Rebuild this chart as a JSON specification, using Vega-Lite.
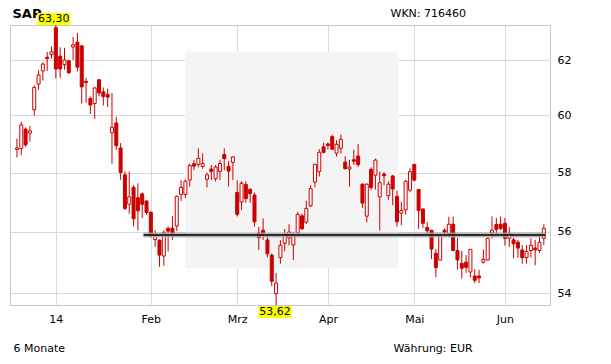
{
  "$schema": "https://vega.github.io/schema/vega-lite/v6.json",
  "autosize": {"type": "none"},
  "padding": {"left": 10, "top": 25, "right": 61, "bottom": 59},
  "width": 540,
  "height": 280,
  "background": "white",
  "config": {
    "view": {"stroke": "#c8c8c8"},
    "locale": {"number": {"decimal": ",", "thousands": ".", "grouping": [3], "currency": ["", " €"]}},
    "axis": {"labelFont": "DejaVu Sans", "titleFont": "DejaVu Sans", "labelColor": "#000000", "titleColor": "#000000", "labelFontSize": 11, "titleFontSize": 11, "titleFontWeight": "normal"}
  },
  "data": {"values": [
    {"i":0,"o":58.80,"h":59.18,"l":58.52,"c":58.85},
    {"i":1,"o":58.83,"h":59.77,"l":58.60,"c":59.66},
    {"i":2,"o":59.51,"h":59.57,"l":58.88,"c":58.96},
    {"i":3,"o":59.37,"h":59.62,"l":59.07,"c":59.45},
    {"i":4,"o":60.20,"h":61.07,"l":60.00,"c":61.00},
    {"i":5,"o":61.12,"h":61.62,"l":60.92,"c":61.45},
    {"i":6,"o":61.60,"h":61.92,"l":61.25,"c":61.85},
    {"i":7,"o":62.10,"h":62.30,"l":61.60,"c":62.05},
    {"i":8,"o":62.20,"h":62.50,"l":62.05,"c":62.30},
    {"i":9,"o":63.20,"h":63.30,"l":61.33,"c":61.67},
    {"i":10,"o":62.14,"h":62.47,"l":61.35,"c":61.67},
    {"i":11,"o":61.83,"h":62.45,"l":61.65,"c":62.00},
    {"i":12,"o":61.97,"h":62.00,"l":61.50,"c":61.53},
    {"i":13,"o":62.48,"h":62.85,"l":62.00,"c":62.56},
    {"i":14,"o":62.66,"h":63.00,"l":61.58,"c":61.74},
    {"i":15,"o":62.52,"h":62.55,"l":60.42,"c":61.02},
    {"i":16,"o":61.22,"h":61.35,"l":60.45,"c":61.18},
    {"i":17,"o":60.60,"h":60.67,"l":60.05,"c":60.37},
    {"i":18,"o":60.42,"h":61.02,"l":59.87,"c":60.98},
    {"i":19,"o":61.28,"h":61.30,"l":60.68,"c":60.80},
    {"i":20,"o":60.84,"h":61.00,"l":60.35,"c":60.67},
    {"i":21,"o":60.75,"h":60.95,"l":60.30,"c":60.65},
    {"i":22,"o":59.38,"h":60.80,"l":58.30,"c":59.58},
    {"i":23,"o":59.73,"h":59.95,"l":58.78,"c":58.93},
    {"i":24,"o":58.85,"h":59.02,"l":57.75,"c":58.00},
    {"i":25,"o":57.92,"h":58.04,"l":56.72,"c":56.78},
    {"i":26,"o":56.92,"h":58.04,"l":56.60,"c":57.17},
    {"i":27,"o":57.49,"h":57.57,"l":56.18,"c":56.43},
    {"i":28,"o":57.14,"h":57.63,"l":56.04,"c":56.70},
    {"i":29,"o":57.27,"h":57.32,"l":56.46,"c":56.92},
    {"i":30,"o":57.03,"h":57.05,"l":56.56,"c":56.64},
    {"i":31,"o":56.65,"h":56.68,"l":55.80,"c":55.88},
    {"i":32,"o":55.74,"h":56.05,"l":55.50,"c":55.88},
    {"i":33,"o":55.72,"h":55.75,"l":54.85,"c":55.23},
    {"i":34,"o":55.20,"h":56.05,"l":54.88,"c":55.98},
    {"i":35,"o":56.11,"h":56.18,"l":55.35,"c":56.02},
    {"i":36,"o":56.12,"h":56.53,"l":55.73,"c":55.91},
    {"i":37,"o":56.19,"h":57.22,"l":56.02,"c":57.19},
    {"i":38,"o":57.25,"h":57.74,"l":57.03,"c":57.49},
    {"i":39,"o":57.25,"h":57.77,"l":57.12,"c":57.70},
    {"i":40,"o":57.74,"h":58.30,"l":57.52,"c":58.24},
    {"i":41,"o":58.30,"h":58.43,"l":58.08,"c":58.22},
    {"i":42,"o":58.28,"h":58.84,"l":58.18,"c":58.49},
    {"i":43,"o":58.21,"h":58.66,"l":58.13,"c":58.31},
    {"i":44,"o":57.77,"h":58.00,"l":57.49,"c":57.92},
    {"i":45,"o":58.12,"h":58.26,"l":57.74,"c":58.04},
    {"i":46,"o":57.79,"h":58.26,"l":57.69,"c":58.19},
    {"i":47,"o":58.04,"h":58.44,"l":57.74,"c":58.31},
    {"i":48,"o":58.62,"h":58.84,"l":58.08,"c":58.48},
    {"i":49,"o":58.21,"h":58.39,"l":57.52,"c":58.05},
    {"i":50,"o":58.35,"h":58.56,"l":57.74,"c":58.54},
    {"i":51,"o":57.32,"h":57.74,"l":56.51,"c":56.58},
    {"i":52,"o":57.00,"h":57.70,"l":56.73,"c":57.63},
    {"i":53,"o":57.59,"h":57.70,"l":56.97,"c":57.11},
    {"i":54,"o":57.42,"h":57.47,"l":56.97,"c":57.28},
    {"i":55,"o":57.23,"h":57.31,"l":56.17,"c":56.33},
    {"i":56,"o":55.96,"h":56.16,"l":55.40,"c":55.80},
    {"i":57,"o":56.05,"h":56.44,"l":55.73,"c":55.94},
    {"i":58,"o":55.73,"h":55.85,"l":55.15,"c":55.27},
    {"i":59,"o":55.23,"h":55.28,"l":54.22,"c":54.38},
    {"i":60,"o":53.98,"h":54.65,"l":53.62,"c":54.32},
    {"i":61,"o":55.15,"h":55.72,"l":54.95,"c":55.55},
    {"i":62,"o":55.62,"h":56.09,"l":55.35,"c":55.92},
    {"i":63,"o":55.80,"h":56.25,"l":55.55,"c":55.99},
    {"i":64,"o":55.56,"h":56.00,"l":55.07,"c":55.88},
    {"i":65,"o":55.96,"h":56.66,"l":55.90,"c":56.58},
    {"i":66,"o":56.53,"h":56.60,"l":56.06,"c":56.10},
    {"i":67,"o":56.32,"h":57.04,"l":56.25,"c":56.78},
    {"i":68,"o":56.87,"h":57.57,"l":56.83,"c":57.45},
    {"i":69,"o":57.67,"h":58.30,"l":57.49,"c":58.28},
    {"i":70,"o":58.03,"h":58.81,"l":57.86,"c":58.70},
    {"i":71,"o":58.89,"h":59.04,"l":58.66,"c":58.70},
    {"i":72,"o":58.99,"h":59.04,"l":58.80,"c":58.94},
    {"i":73,"o":59.25,"h":59.32,"l":58.78,"c":58.81},
    {"i":74,"o":58.67,"h":59.12,"l":58.55,"c":58.98},
    {"i":75,"o":58.84,"h":59.32,"l":58.66,"c":59.15},
    {"i":76,"o":58.36,"h":58.56,"l":58.09,"c":58.14},
    {"i":77,"o":58.12,"h":58.44,"l":57.52,"c":58.19},
    {"i":78,"o":58.44,"h":58.79,"l":58.26,"c":58.39},
    {"i":79,"o":58.57,"h":58.99,"l":58.19,"c":58.27},
    {"i":80,"o":57.60,"h":57.63,"l":56.80,"c":56.96},
    {"i":81,"o":56.52,"h":57.63,"l":56.31,"c":57.60},
    {"i":82,"o":58.11,"h":58.18,"l":57.40,"c":57.49},
    {"i":83,"o":57.91,"h":58.48,"l":57.42,"c":58.43},
    {"i":84,"o":57.17,"h":58.03,"l":56.04,"c":57.65},
    {"i":85,"o":57.95,"h":58.01,"l":57.57,"c":57.89},
    {"i":86,"o":57.21,"h":57.70,"l":57.07,"c":57.60},
    {"i":87,"o":57.88,"h":57.92,"l":56.89,"c":57.44},
    {"i":88,"o":57.19,"h":57.37,"l":56.17,"c":56.33},
    {"i":89,"o":56.62,"h":57.00,"l":56.22,"c":56.71},
    {"i":90,"o":56.73,"h":57.74,"l":56.57,"c":57.70},
    {"i":91,"o":57.40,"h":58.15,"l":57.32,"c":58.03},
    {"i":92,"o":58.28,"h":58.30,"l":57.69,"c":57.74},
    {"i":93,"o":57.42,"h":57.43,"l":56.09,"c":56.71},
    {"i":94,"o":56.76,"h":56.78,"l":56.13,"c":56.28},
    {"i":95,"o":56.14,"h":56.32,"l":55.92,"c":56.03},
    {"i":96,"o":56.05,"h":56.05,"l":55.10,"c":55.43},
    {"i":97,"o":55.29,"h":55.43,"l":54.51,"c":54.82},
    {"i":98,"o":55.07,"h":55.88,"l":55.05,"c":55.87},
    {"i":99,"o":56.05,"h":56.11,"l":55.85,"c":55.99},
    {"i":100,"o":55.94,"h":56.50,"l":55.82,"c":56.25},
    {"i":101,"o":56.25,"h":56.50,"l":55.37,"c":55.38},
    {"i":102,"o":55.38,"h":55.80,"l":54.75,"c":55.07},
    {"i":103,"o":54.96,"h":55.37,"l":54.47,"c":54.80},
    {"i":104,"o":55.00,"h":55.23,"l":54.65,"c":54.83},
    {"i":105,"o":54.68,"h":55.43,"l":54.50,"c":55.42},
    {"i":106,"o":54.55,"h":54.77,"l":54.32,"c":54.41},
    {"i":107,"o":54.55,"h":54.75,"l":54.32,"c":54.49},
    {"i":108,"o":55.00,"h":55.42,"l":54.95,"c":55.09},
    {"i":109,"o":55.07,"h":55.80,"l":55.05,"c":55.78},
    {"i":110,"o":55.96,"h":56.51,"l":55.78,"c":56.05},
    {"i":111,"o":56.24,"h":56.46,"l":55.91,"c":56.08},
    {"i":112,"o":56.25,"h":56.51,"l":56.06,"c":56.11},
    {"i":113,"o":56.28,"h":56.46,"l":55.54,"c":55.78},
    {"i":114,"o":55.78,"h":56.16,"l":55.50,"c":55.94},
    {"i":115,"o":55.73,"h":55.81,"l":55.12,"c":55.60},
    {"i":116,"o":55.65,"h":55.73,"l":55.15,"c":55.46},
    {"i":117,"o":55.40,"h":55.56,"l":54.95,"c":55.15},
    {"i":118,"o":55.15,"h":55.56,"l":54.95,"c":55.35},
    {"i":119,"o":55.38,"h":55.78,"l":55.15,"c":55.55},
    {"i":120,"o":55.46,"h":55.73,"l":54.90,"c":55.40},
    {"i":121,"o":55.38,"h":55.96,"l":55.30,"c":55.65},
    {"i":122,"o":55.78,"h":56.25,"l":55.56,"c":56.11}
  ]},
  "resolve": {"axis": {"x": "independent", "y": "independent"}},
  "layer": [
    {
      "data": {"values": [{}]},
      "mark": {"type": "rect", "fill": "#f4f4f4"},
      "encoding": {
        "x": {"datum": 38.9, "type": "quantitative", "scale": {"domain": [-0.455, 122.27], "nice": false, "zero": false}, "axis": null},
        "x2": {"datum": 88.3},
        "y": {"datum": 62.31, "type": "quantitative", "scale": {"type": "log", "domain": [53.62, 63.3], "nice": false, "zero": false}, "axis": null},
        "y2": {"datum": 54.8}
      }
    },
    {
      "mark": {"type": "rule", "color": "#cc0000", "strokeWidth": 1},
      "encoding": {
        "x": {"field": "i", "type": "quantitative",
          "axis": {"orient": "bottom", "values": [9, 31, 51, 72, 92, 113], "labelExpr": "datum.value==9?'14':datum.value==31?'Feb':datum.value==51?'Mrz':datum.value==72?'Apr':datum.value==92?'Mai':'Jun'", "grid": true, "gridColor": "#d9d9d9", "ticks": false, "domain": false, "labelPadding": 8, "title": "6 Monate", "titleX": 3, "titleY": 43, "titleAlign": "left", "titleBaseline": "middle", "titleAnchor": null}},
        "y": {"field": "l", "type": "quantitative",
          "axis": {"orient": "right", "values": [54, 56, 58, 60, 62], "grid": true, "gridColor": "#d9d9d9", "ticks": false, "domain": false, "labelPadding": 7, "title": "WKN: 716460", "titleAngle": 0, "titleX": -160, "titleY": -12, "titleAlign": "left", "titleBaseline": "middle", "titleAnchor": null}},
        "y2": {"field": "h"}
      }
    },
    {
      "mark": {"type": "bar", "size": 3, "stroke": "#cc0000", "strokeWidth": 1},
      "encoding": {
        "x": {"field": "i", "type": "quantitative",
          "axis": {"orient": "top", "labels": false, "ticks": false, "domain": false, "grid": false, "title": "SAP", "titleX": 2, "titleY": -8, "titleAlign": "left", "titleBaseline": "alphabetic", "titleAnchor": null, "titleFontSize": 13, "titleFontWeight": "bold"}},
        "y": {"field": "o", "type": "quantitative",
          "axis": {"orient": "left", "labels": false, "ticks": false, "domain": false, "grid": false, "title": "Währung: EUR", "titleAngle": 0, "titleX": 383, "titleY": 323, "titleAlign": "left", "titleBaseline": "middle", "titleAnchor": null}},
        "y2": {"field": "c"},
        "fill": {"condition": {"test": "datum.c > datum.o", "value": "#ffffff"}, "value": "#cc0000"}
      }
    },
    {
      "data": {"values": [{}]},
      "mark": {"type": "rule", "color": "#a8a8a8", "strokeWidth": 5, "opacity": 0.8},
      "encoding": {
        "x": {"datum": 29.3, "type": "quantitative", "axis": null},
        "x2": {"datum": 122.27},
        "y": {"datum": 55.89, "type": "quantitative", "axis": null}
      }
    },
    {
      "data": {"values": [{}]},
      "mark": {"type": "rule", "color": "#000000", "strokeWidth": 1.6},
      "encoding": {
        "x": {"datum": 29.3, "type": "quantitative", "axis": null},
        "x2": {"datum": 122.27},
        "y": {"datum": 55.89, "type": "quantitative", "axis": null}
      }
    },
    {
      "transform": [{"filter": "datum.h >= 63.3"}],
      "mark": {"type": "point", "shape": "M-1,-0.364H1V0.364H-1Z", "size": 1089, "filled": true, "fill": "#ffff00", "strokeWidth": 0, "opacity": 1, "yOffset": -6, "xOffset": -2},
      "encoding": {
        "x": {"field": "i", "type": "quantitative", "axis": null},
        "y": {"field": "h", "type": "quantitative", "axis": null}
      }
    },
    {
      "transform": [{"filter": "datum.h >= 63.3"}],
      "mark": {"type": "text", "font": "DejaVu Sans", "fontSize": 11, "color": "#000000", "baseline": "middle", "align": "center", "yOffset": -6, "xOffset": -2},
      "encoding": {
        "x": {"field": "i", "type": "quantitative", "axis": null},
        "y": {"field": "h", "type": "quantitative", "axis": null},
        "text": {"field": "h", "type": "quantitative", "format": ".2f"}
      }
    },
    {
      "transform": [{"filter": "datum.l <= 53.62"}],
      "mark": {"type": "point", "shape": "M-1,-0.364H1V0.364H-1Z", "size": 1089, "filled": true, "fill": "#ffff00", "strokeWidth": 0, "opacity": 1, "yOffset": 7, "xOffset": -1},
      "encoding": {
        "x": {"field": "i", "type": "quantitative", "axis": null},
        "y": {"field": "l", "type": "quantitative", "axis": null}
      }
    },
    {
      "transform": [{"filter": "datum.l <= 53.62"}],
      "mark": {"type": "text", "font": "DejaVu Sans", "fontSize": 11, "color": "#000000", "baseline": "middle", "align": "center", "yOffset": 7, "xOffset": -1},
      "encoding": {
        "x": {"field": "i", "type": "quantitative", "axis": null},
        "y": {"field": "l", "type": "quantitative", "axis": null},
        "text": {"field": "l", "type": "quantitative", "format": ".2f"}
      }
    }
  ]
}
